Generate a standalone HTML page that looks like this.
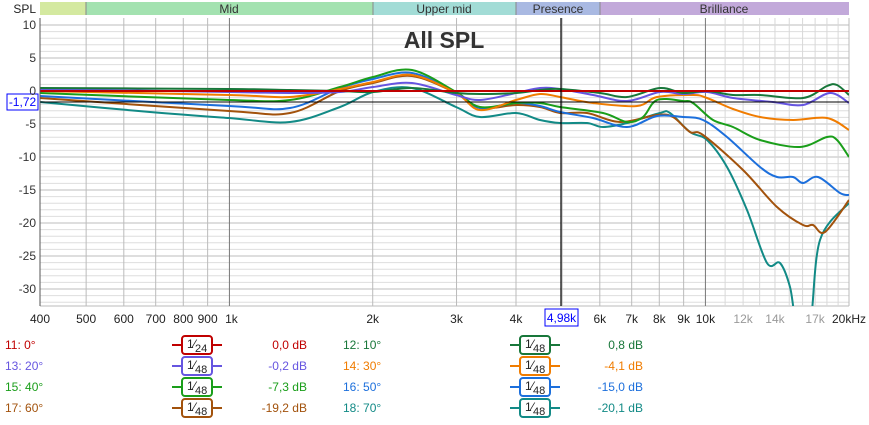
<!DOCTYPE html>
<html><head><meta charset="utf-8"><style>
body{margin:0;background:#fff;width:869px;height:420px;overflow:hidden;font-family:"Liberation Sans","DejaVu Sans",sans-serif}
svg text{font-family:"Liberation Sans","DejaVu Sans",sans-serif}
</style></head><body>
<svg id="s" width="869" height="420" xmlns="http://www.w3.org/2000/svg">
<defs><clipPath id="cp"><rect x="40" y="18" width="809" height="288"/></clipPath></defs>
<rect width="869" height="420" fill="#fff"/>
<g id="grid"></g>
<rect x="40" y="2" width="46" height="13" fill="#d4e9a0"/>
<rect x="86" y="2" width="287" height="13" fill="#a3e2b0"/>
<rect x="373" y="2" width="143" height="13" fill="#a2dcd6"/>
<rect x="516" y="2" width="84" height="13" fill="#a9b9e2"/>
<rect x="600" y="2" width="249" height="13" fill="#c2a9da"/>
<g stroke="#888" stroke-width="1"><line x1="86" y1="2" x2="86" y2="15"/><line x1="373" y1="2" x2="373" y2="15"/><line x1="516" y1="2" x2="516" y2="15"/><line x1="600" y1="2" x2="600" y2="15"/></g>
<g font-size="12" fill="#333" text-anchor="middle">
<text x="229" y="13">Mid</text><text x="444" y="13">Upper mid</text><text x="558" y="13">Presence</text><text x="724" y="13">Brilliance</text>
</g>
<text x="36" y="13" font-size="12" text-anchor="end" fill="#222">SPL</text>
<text x="444" y="48" font-size="23" font-weight="bold" text-anchor="middle" fill="#333">All SPL</text>
<g id="curves" fill="none" stroke-width="2" stroke-linejoin="round" clip-path="url(#cp)"></g>
<line x1="40" y1="102" x2="849" y2="102" stroke="#000" stroke-width="1"/>
<line x1="561" y1="18" x2="561" y2="306" stroke="#000" stroke-width="1.2"/>
<line x1="40" y1="18" x2="40" y2="306" stroke="#555"/>
<rect x="7" y="94" width="31" height="16" fill="#fff" stroke="#00f"/>
<text x="22.5" y="106" font-size="12" fill="#00f" text-anchor="middle">-1,72</text>
<rect x="545" y="309" width="33" height="17" fill="#fff" stroke="#00f"/>
<text x="561.5" y="322" font-size="12" fill="#00f" text-anchor="middle">4,98k</text>
<g id="ylab" font-size="12" fill="#333" text-anchor="end"></g>
<g id="xlab" font-size="12" fill="#222" text-anchor="middle"></g>
<g id="leg" font-size="12"></g>
</svg>
<script>
var NS="http://www.w3.org/2000/svg";
function el(t,a,p,txt){var e=document.createElementNS(NS,t);for(var k in a)e.setAttribute(k,a[k]);if(txt!=null)e.textContent=txt;document.getElementById(p).appendChild(e);return e;}
function X(f){return 40+476*Math.log10(f/400);}
function Y(d){return 91-6.6*d;}
for(var d=10;d>=-32;d--){var y=Y(d);var maj=(d%5==0);el('line',{x1:40,x2:849,y1:y,y2:y,stroke:maj?'#bdbdbd':'#dedede','stroke-width':1},'grid');}
el('line',{x1:40,x2:849,y1:306,y2:306,stroke:'#bbb'},'grid');
el('line',{x1:849,x2:849,y1:18,y2:306,stroke:'#bbb'},'grid');
var fs=[500,600,700,800,900,1000,2000,3000,4000,5000,6000,7000,8000,9000,10000,11000,12000,13000,14000,15000,16000,17000,18000,19000];
fs.forEach(function(f){var x=X(f);var c=(f==1000||f==10000)?'#777':(f>10000?'#d8d8d8':'#bbb');el('line',{x1:x,x2:x,y1:18,y2:306,stroke:c},'grid');});
for(var d=10;d>=-30;d-=5){el('text',{x:36,y:Y(d)+4},'ylab',String(d));}
var xl=[[400,'400'],[500,'500'],[600,'600'],[700,'700'],[800,'800'],[900,'900'],[1000,'1k'],[2000,'2k'],[3000,'3k'],[4000,'4k'],[6000,'6k'],[7000,'7k'],[8000,'8k'],[9000,'9k'],[10000,'10k'],[12000,'12k'],[14000,'14k'],[17000,'17k']];
xl.forEach(function(a){var t=el('text',{x:X(a[0])+(a[0]==1000?2:0),y:323},'xlab',a[1]);if(a[0]>10000)t.setAttribute('fill','#999');});
el('text',{x:849,y:323},'xlab','20kHz');
function path(p){var s='M'+p[0][0]+','+p[0][1];for(var i=0;i<p.length-1;i++){var p0=p[i>0?i-1:i],p1=p[i],p2=p[i+1],p3=p[i+2<p.length?i+2:i+1];
s+=' C'+(p1[0]+(p2[0]-p0[0])/6)+','+(p1[1]+(p2[1]-p0[1])/6)+' '+(p2[0]-(p3[0]-p1[0])/6)+','+(p2[1]-(p3[1]-p1[1])/6)+' '+p2[0]+','+p2[1];}return s;}
var C={
red:['#c00000',[[40,91],[849,91]]],
dg:['#18773a',[[40,88],[229,89],[290,90],[340,91],[373,92],[412,88],[456,93],[480,94],[516,93],[540,90],[560,89],[600,93],[627,97],[660,88],[683,93],[707,91],[733,95],[760,95],[803,98],[827,86],[837,85],[849,95]]],
pu:['#6655e0',[[40,89],[229,92],[290,93],[340,92],[373,87],[412,83],[456,95],[480,100],[516,93],[540,88],[560,89],[593,95],[627,101],[660,92],[683,94],[707,92],[733,98],[773,102],[803,105],[830,93],[849,103]]],
or:['#f07c00',[[40,91],[229,95],[290,97],[340,89],[373,82],[412,75],[456,93],[480,110],[516,100],[540,94],[560,97],[593,103],[637,106],[657,97],[693,95],[707,98],[733,109],[760,117],[793,120],[827,118],[849,130]]],
gr:['#1a9e1a',[[40,93],[229,100],[290,100],[340,87],[373,77],[412,70],[456,92],[480,107],[516,103],[540,103],[560,107],[603,113],[627,122],[643,117],[657,100],[683,101],[693,103],[713,120],[733,127],[760,140],[800,147],[827,137],[837,140],[849,157]]],
bl:['#1c6fdc',[[40,96],[229,106],[290,108],[340,88],[373,79],[412,73],[456,92],[480,108],[516,103],[540,106],[560,112],[593,118],[627,127],[657,116],[683,117],[703,120],[727,137],[760,167],[777,177],[793,177],[803,183],[818,177],[840,193],[849,195]]],
br:['#a2520c',[[40,98],[229,111],[290,113],[340,91],[373,83],[412,76],[456,93],[480,108],[516,105],[540,107],[560,113],[587,113],[620,122],[657,115],[673,117],[690,132],[703,135],[743,170],[777,207],[803,225],[813,225],[825,232],[849,200]]],
te:['#128a86',[[40,102],[150,112],[229,118],[290,122],[340,107],[373,92],[412,88],[456,107],[480,117],[516,113],[540,120],[560,123],[587,123],[603,127],[627,123],[660,113],[670,113],[690,132],[707,140],[727,167],[747,210],[767,263],[780,263],[790,287],[797,325],[810,325],[820,240],[849,203]]]
};
['te','br','bl','gr','or','pu','dg','red'].forEach(function(k){el('path',{d:path(C[k][1]),stroke:C[k][0]},'curves');});
var L=[['11: 0°','#c00000','24','0,0 dB','#c00000',5,197,307],
['12: 10°','#18773a','48','0,8 dB','#18773a',343,535,643],
['13: 20°','#6655e0','48','-0,2 dB','#6655e0',5,197,307],
['14: 30°','#f07c00','48','-4,1 dB','#f07c00',343,535,643],
['15: 40°','#1a9e1a','48','-7,3 dB','#1a9e1a',5,197,307],
['16: 50°','#1c6fdc','48','-15,0 dB','#1c6fdc',343,535,643],
['17: 60°','#a2520c','48','-19,2 dB','#a2520c',5,197,307],
['18: 70°','#128a86','48','-20,1 dB','#128a86',343,535,643]];
L.forEach(function(l,i){var y=345+Math.floor(i/2)*21;
el('text',{x:l[5],y:y+4,fill:l[1]},'leg',l[0]);
var c=l[6];el('line',{x1:c-25,x2:c+25,y1:y,y2:y,stroke:l[1],'stroke-width':2},'leg');
el('rect',{x:c-15,y:y-9,width:30,height:18,rx:3,fill:'#fff',stroke:l[1],'stroke-width':2},'leg');
el('text',{x:c-10,y:y+3,fill:'#222','font-size':12},'leg','1⁄');
el('text',{x:c-2,y:y+7,fill:'#222','font-size':11},'leg',l[2]);
el('text',{x:l[7],y:y+4,fill:l[4],'text-anchor':'end'},'leg',l[3]);});
</script>
</body></html>
